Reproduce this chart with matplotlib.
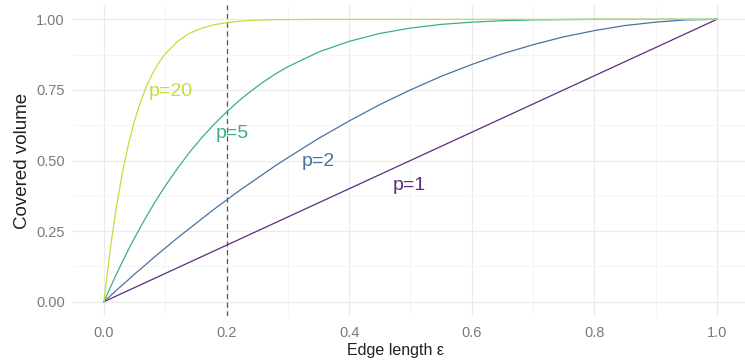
import matplotlib
matplotlib.use("Agg")
import matplotlib.pyplot as plt
from matplotlib import font_manager
from matplotlib.ticker import MultipleLocator

plt.rcParams['font.family'] = ['Liberation Sans', 'DejaVu Sans']
installed = {f.name for f in font_manager.fontManager.ttflist}
narrow = 'Liberation Sans Narrow' in installed

# edge length grid and covered volume
edge = [0, 0.01, 0.02, 0.03, 0.04, 0.05, 0.06, 0.07, 0.08, 0.09, 0.10,
        0.12, 0.14, 0.16, 0.18, 0.20, 0.22, 0.24, 0.26, 0.28, 0.30,
        0.35, 0.40, 0.45, 0.50, 0.55, 0.60, 0.65, 0.70, 0.75, 0.80,
        0.85, 0.90, 0.95, 1.0]

vol_p1 = [0, 0.01, 0.02, 0.03, 0.04, 0.05, 0.06, 0.07, 0.08, 0.09, 0.10,
          0.12, 0.14, 0.16, 0.18, 0.20, 0.22, 0.24, 0.26, 0.28, 0.30,
          0.35, 0.40, 0.45, 0.50, 0.55, 0.60, 0.65, 0.70, 0.75, 0.80,
          0.85, 0.90, 0.95, 1.0]
vol_p2 = [0, 0.020, 0.040, 0.059, 0.078, 0.098, 0.116, 0.135, 0.154, 0.172, 0.190,
          0.226, 0.260, 0.294, 0.328, 0.360, 0.392, 0.422, 0.452, 0.482, 0.510,
          0.578, 0.640, 0.698, 0.750, 0.798, 0.840, 0.878, 0.910, 0.938, 0.960,
          0.978, 0.990, 0.998, 1.0]
vol_p5 = [0, 0.049, 0.096, 0.141, 0.185, 0.226, 0.266, 0.304, 0.341, 0.376, 0.410,
          0.472, 0.530, 0.582, 0.629, 0.672, 0.711, 0.746, 0.778, 0.807, 0.832,
          0.884, 0.922, 0.950, 0.969, 0.982, 0.990, 0.995, 0.998, 0.999, 1.0,
          1.0, 1.0, 1.0, 1.0]
vol_p20 = [0, 0.182, 0.332, 0.456, 0.558, 0.642, 0.710, 0.766, 0.811, 0.848, 0.878,
           0.922, 0.951, 0.969, 0.981, 0.988, 0.993, 0.996, 0.998, 0.999, 0.999,
           1.0, 1.0, 1.0, 1.0, 1.0, 1.0, 1.0, 1.0, 1.0, 1.0,
           1.0, 1.0, 1.0, 1.0]

series = [
    ("p=1", vol_p1, "#5b2c7e", (0.499, 0.413)),
    ("p=2", vol_p2, "#4a72a0", (0.349, 0.495)),
    ("p=5", vol_p5, "#3cae8a", (0.209, 0.597)),
    ("p=20", vol_p20, "#c3dd3a", (0.109, 0.743)),
]
cutoff = 0.2

fig = plt.figure(figsize=(7.45, 3.62), dpi=100)
ax = fig.add_axes([0.0984, 0.1276, 0.905, 0.858])

for label, vals, col, (lx, ly) in series:
    ax.plot(edge, vals, color=col, lw=0.9, zorder=3)
    ax.text(lx, ly, label, color=col, fontsize=14, ha="center", va="center", zorder=4)

ax.axvline(cutoff, color="#555555", lw=0.9, ls=(0, (4, 3)), zorder=2)

ax.set_xlim(-0.05, 1.05)
ax.set_ylim(-0.05, 1.05)
ax.xaxis.set_minor_locator(MultipleLocator(0.1))
ax.yaxis.set_minor_locator(MultipleLocator(0.125))
ax.set_xticks([0, 0.2, 0.4, 0.6, 0.8, 1.0])
ax.set_xticklabels(["0.0", "0.2", "0.4", "0.6", "0.8", "1.0"])
ax.set_yticks([0, 0.25, 0.5, 0.75, 1.0])
ax.set_yticklabels(["0.00", "0.25", "0.50", "0.75", "1.00"])

ax.grid(which="major", color="#ebebeb", lw=0.9)
ax.grid(which="minor", color="#f4f4f4", lw=0.6)
ax.set_axisbelow(True)
for s in ax.spines.values():
    s.set_visible(False)
ax.tick_params(which="both", length=0, labelsize=10.5, labelcolor="#7a7a7a")
ax.tick_params(axis="x", pad=7.5)
ax.tick_params(axis="y", pad=6)

if narrow:
    ax.set_xlabel("Edge length ε", fontsize=13.5, color="#222222",
                  family=['Liberation Sans Narrow', 'DejaVu Sans'])
else:
    ax.set_xlabel("Edge length ε", fontsize=11.5, color="#222222")
ax.xaxis.set_label_coords(0.4786, -0.112)
ax.xaxis.label.set_va("center")
ax.set_ylabel("Covered volume", fontsize=13.5, color="#222222", labelpad=4)

fig.savefig("out.png", dpi=100, facecolor="white")
plt.close(fig)
